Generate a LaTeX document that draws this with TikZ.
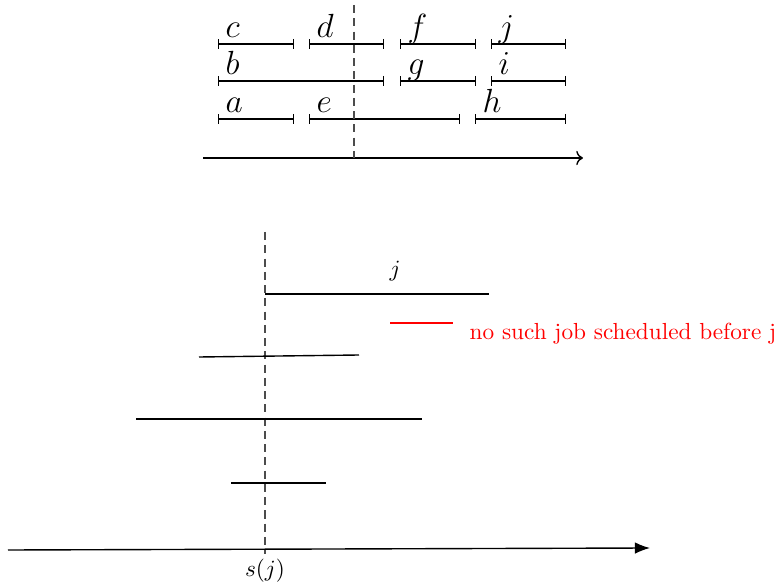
\documentclass[tikz,border=0pt]{standalone}
\usetikzlibrary{arrows.meta}

\begin{document}
\begin{tikzpicture}[
    x=0.43pt, y=-0.43pt,
    semithick,
    interval/.style={{Bar[width=4.3pt]}-{Bar[width=4.3pt]}},
    cut/.style={dash pattern=on 3.5pt off 2.2pt, black!70},
    lbl/.style={anchor=base west, inner sep=0pt, font=\Large, xshift=3pt, yshift=3pt},
    job/.style={semithick}
]
    \useasboundingbox (0,0) rectangle (777,588);

    % top: all intervals
    \coordinate (c0) at (218,44);  \coordinate (c1) at (294,44);
    \coordinate (d0) at (309,44);  \coordinate (d1) at (384,44);
    \coordinate (f0) at (400,44);  \coordinate (f1) at (476,44);
    \coordinate (j0) at (491,44);  \coordinate (j1) at (566,44);
    \coordinate (b0) at (218,81);  \coordinate (b1) at (384,81);
    \coordinate (g0) at (400,81);  \coordinate (g1) at (476,81);
    \coordinate (i0) at (491,81);  \coordinate (i1) at (566,81);
    \coordinate (a0) at (218,119); \coordinate (a1) at (294,119);
    \coordinate (e0) at (309,119); \coordinate (e1) at (460,119);
    \coordinate (h0) at (475,119); \coordinate (h1) at (566,119);
    \draw [interval] (c0) -- (c1) node [lbl, pos=0] (lc) {$c$};
    \draw [interval] (d0) -- (d1) node [lbl, pos=0] (ld) {$d$};
    \draw [interval] (f0) -- (f1) node [lbl, pos=0] (lf) {$f$};
    \draw [interval] (j0) -- (j1) node [lbl, pos=0] (lj) {$j$};
    \draw [interval] (b0) -- (b1) node [lbl, pos=0] (lb) {$b$};
    \draw [interval] (g0) -- (g1) node [lbl, pos=0] (lg) {$g$};
    \draw [interval] (i0) -- (i1) node [lbl, pos=0] (li) {$i$};
    \draw [interval] (a0) -- (a1) node [lbl, pos=0] (la) {$a$};
    \draw [interval] (e0) -- (e1) node [lbl, pos=0] (le) {$e$};
    \draw [interval] (h0) -- (h1) node [lbl, pos=0] (lh) {$h$};

    \coordinate (T0) at (203,158); \coordinate (T1) at (583,158);
    \coordinate (C0) at (354,5);   \coordinate (C1) at (354,158);
    \draw [->] (T0) -- (T1);
    \draw [cut] (C0) -- (C1);

    % bottom: jobs overlapping s(j)
    \coordinate (S0) at (265,232); \coordinate (S1) at (265,554);
    \coordinate (X0) at (8,550);   \coordinate (X1) at (650,548);
    \draw [cut] (S0) -- (S1);
    \draw [-{Latex[length=6.5pt, width=5pt]}] (X0) -- (X1);
    \node (s) at (265,571) {$s(j)$};

    \coordinate (J0) at (265,294); \coordinate (J1) at (489,294);
    \coordinate (K0) at (199,357); \coordinate (K1) at (359,355);
    \coordinate (L0) at (136,419); \coordinate (L1) at (422,419);
    \coordinate (M0) at (231,483); \coordinate (M1) at (326,483);
    \draw [job] (J0) -- (J1);
    \draw [job] (K0) -- (K1);
    \draw [job] (L0) -- (L1);
    \draw [job] (M0) -- (M1);
    \node (jj) at (395,271) {$j$};

    \coordinate (R0) at (390,323); \coordinate (R1) at (453,323);
    \draw [red, job] (R0) -- (R1);
    \node [red, anchor=base west, inner sep=0pt] (note) at (469,340) {no such job scheduled before j};
\end{tikzpicture}
\end{document}
